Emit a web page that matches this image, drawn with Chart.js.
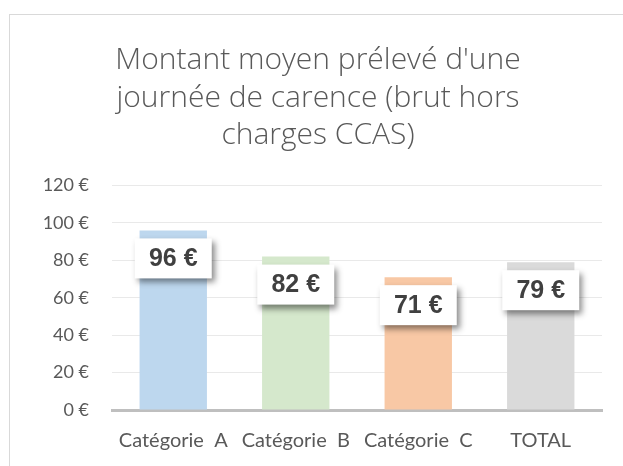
<!DOCTYPE html>
<html>
<head>
<meta charset="utf-8">
<script src="https://cdn.jsdelivr.net/npm/chart.js@4"></script>
<style>
  html, body { margin: 0; padding: 0; background: #fff; overflow: hidden; }
  #frame {
    position: absolute; left: 9px; top: 14px;
    width: 620px; height: 470px;
    border: 1.5px solid #d9d9d9;
    background: #fff;
  }
</style>
</head>
<body>
<div id="frame"><canvas id="chart" width="620" height="470"></canvas></div>
<script>
// Chart data
const categories = ['Catégorie  A', 'Catégorie  B', 'Catégorie  C', 'TOTAL'];
const amounts = [96, 82, 71, 79];
const barColors = ['#BDD7EE', '#D5E8CC', '#F8C8A5', '#DADADA'];
const yTicks = [0, 20, 40, 60, 80, 100, 120];

// White boxes with a drop shadow holding the values
const valueBoxes = {
    id: 'valueBoxes',
    afterDatasetsDraw(chart) {
        const ctx = chart.ctx;
        const meta = chart.getDatasetMeta(0);
        meta.data.forEach((bar, i) => {
            const cx = bar.x;
            const cy = bar.y + 28;
            const w = 77, h = 40;
            ctx.save();
            ctx.shadowColor = 'rgba(0, 0, 0, 0.45)';
            ctx.shadowBlur = 6;
            ctx.shadowOffsetX = 3;
            ctx.shadowOffsetY = 4;
            ctx.fillStyle = '#ffffff';
            ctx.fillRect(cx - w / 2, cy - h / 2, w, h);
            ctx.restore();

            ctx.save();
            ctx.font = 'bold 25px "Liberation Sans", Arial, sans-serif';
            ctx.fillStyle = '#404040';
            ctx.textAlign = 'center';
            ctx.textBaseline = 'middle';
            ctx.fillText(amounts[i] + ' €', cx, cy + 1);
            ctx.restore();
        });
    }
};

const ctx = document.getElementById('chart').getContext('2d');

const chart = new Chart(ctx, {
    type: 'bar',
    data: {
        labels: categories,
        datasets: [{
            data: amounts,
            backgroundColor: barColors,
            borderWidth: 0,
            categoryPercentage: 1,
            barPercentage: 0.55
        }]
    },
    options: {
        responsive: false,
        animation: false,
        layout: { padding: { left: 0, right: 4, top: 0, bottom: 0 } },
        plugins: {
            legend: { display: false },
            tooltip: { enabled: false },
            title: {
                display: true,
                text: ["Montant moyen prélevé d'une", 'journée de carence (brut hors', 'charges CCAS)'],
                color: '#595959',
                font: { family: 'Open Sans', size: 30, weight: '300', lineHeight: '37.5px' },
                padding: { top: 27, bottom: 31 }
            }
        },
        scales: {
            x: {
                grid: { display: false },
                border: { display: true, color: '#bfbfbf', width: 3 },
                ticks: {
                    autoSkip: false,
                    maxRotation: 0,
                    padding: 11,
                    color: '#595959',
                    font: { family: 'Lato', size: 20 }
                },
                afterFit: s => { s.height = 75; }
            },
            y: {
                min: 0,
                max: 120,
                afterBuildTicks: s => { s.ticks = yTicks.map(v => ({ value: v })); },
                grid: { color: '#e9e9e9', lineWidth: 1, drawTicks: false },
                border: { display: false },
                ticks: {
                    padding: 23,
                    color: '#595959',
                    font: { family: 'Lato', size: 18 },
                    callback: v => v + ' €'
                },
                afterFit: s => { s.width = 102; }
            },
            // empty right-hand spacer so the title stays centred on the whole frame
            spacer: {
                type: 'linear',
                position: 'right',
                grid: { display: false },
                border: { display: false },
                ticks: { display: false },
                afterFit: s => { s.width = 24; }
            }
        }
    },
    plugins: [valueBoxes]
});
</script>
</body>
</html>
